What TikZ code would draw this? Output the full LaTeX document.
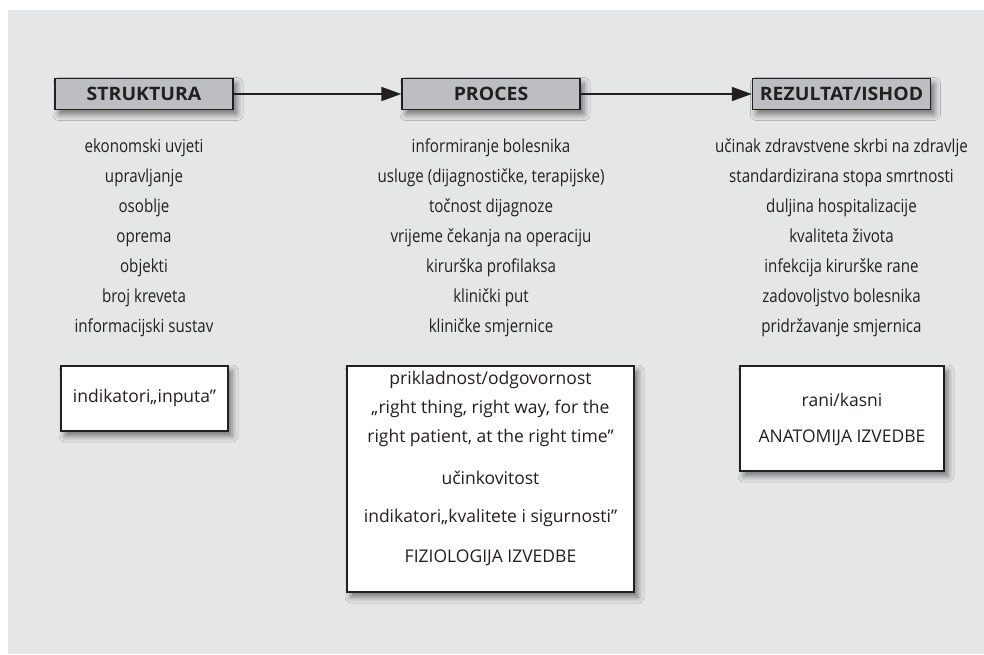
\documentclass[tikz,border=0pt]{standalone}
\usepackage{fontspec}
\setmainfont{Open Sans}
\newfontfamily\condfont[FakeStretch=0.84]{Open Sans}
\newfontfamily\headfont[FakeStretch=1.05]{Open Sans}
\usepackage{tikz}
\usetikzlibrary{arrows.meta}
\usetikzlibrary{shadows.blur}
\definecolor{panelgray}{HTML}{E5E6E8}
\definecolor{headgray}{HTML}{BDBEC1}
\definecolor{inkgray}{HTML}{231F20}

\begin{document}
\begin{tikzpicture}[x=1pt, y=-1pt,
    boxshadow/.style={blur shadow={shadow xshift=4pt, shadow yshift=-5pt,
        shadow blur radius=6pt, shadow opacity=50}},
    head/.style={draw=inkgray, line width=1.4pt, fill=headgray, boxshadow,
        minimum width=178pt, minimum height=31pt, inner sep=0pt,
        text=inkgray, font=\headfont\bfseries\fontsize{18.5}{20}\selectfont},
    itemlist/.style={align=center, text=inkgray,
        font=\condfont\fontsize{18}{30}\selectfont},
    panel/.style={draw=inkgray, line width=1.2pt, fill=white, boxshadow, inner sep=0pt},
    paneltext/.style={text=inkgray, align=center, inner sep=0pt,
        font=\fontsize{17.5}{29}\selectfont},
    flow/.style={line width=1.8pt, draw=inkgray,
        -{Triangle[length=20pt, width=14pt]}}]
      \fill[panelgray] (8, 10) rectangle (984, 654);
      \useasboundingbox (0, 0) rectangle (984, 654);

      % headers
      \node[head] (struktura) at (144, 94) {STRUKTURA};
      \node[head] (proces) at (491, 94) {PROCES};
      \node[head] (rezultat) at (841.5, 94) {REZULTAT/ISHOD};

      \draw[flow] (struktura) -- (proces);
      \draw[flow] (proces) -- (rezultat);

      % lists
      \node[itemlist] (strlist) at (144, 238) {ekonomski uvjeti\\upravljanje\\osoblje\\oprema\\objekti\\broj kreveta\\informacijski sustav};
      \node[itemlist] (prolist) at (491, 238) {informiranje bolesnika\\usluge (dijagnostičke, terapijske)\\točnost dijagnoze\\vrijeme čekanja na operaciju\\kirurška profilaksa\\klinički put\\kliničke smjernice};
      \node[itemlist] (rezlist) at (841.5, 238) {učinak zdravstvene skrbi na zdravlje\\standardizirana stopa smrtnosti\\duljina hospitalizacije\\kvaliteta života\\infekcija kirurške rane\\zadovoljstvo bolesnika\\pridržavanje smjernica};

      % indicator panels
      \node[panel, minimum width=167pt, minimum height=65pt] (inputbox) at (144.5, 398.5) {};
      \node[paneltext] (inputtxt) at (144.5, 398) {indikatori„inputa”};

      \node[panel, minimum width=287pt, minimum height=226pt] (procbox) at (490.5, 479) {};
      \node[paneltext] (proctxt1) at (490.5, 409) {prikladnost/odgovornost\\„right thing, right way, for the\\right patient, at the right time”};
      \node[paneltext] (proctxt2) at (490.5, 478) {učinkovitost};
      \node[paneltext] (proctxt3) at (490.5, 518) {indikatori„kvalitete i sigurnosti”};
      \node[paneltext] (proctxt4) at (490.5, 558) {FIZIOLOGIJA IZVEDBE};

      \node[panel, minimum width=204pt, minimum height=105pt] (rezbox) at (842, 418.5) {};
      \node[paneltext] (reztxt1) at (842, 400) {rani/kasni};
      \node[paneltext] (reztxt2) at (842, 438) {ANATOMIJA IZVEDBE};
\end{tikzpicture}
\end{document}
